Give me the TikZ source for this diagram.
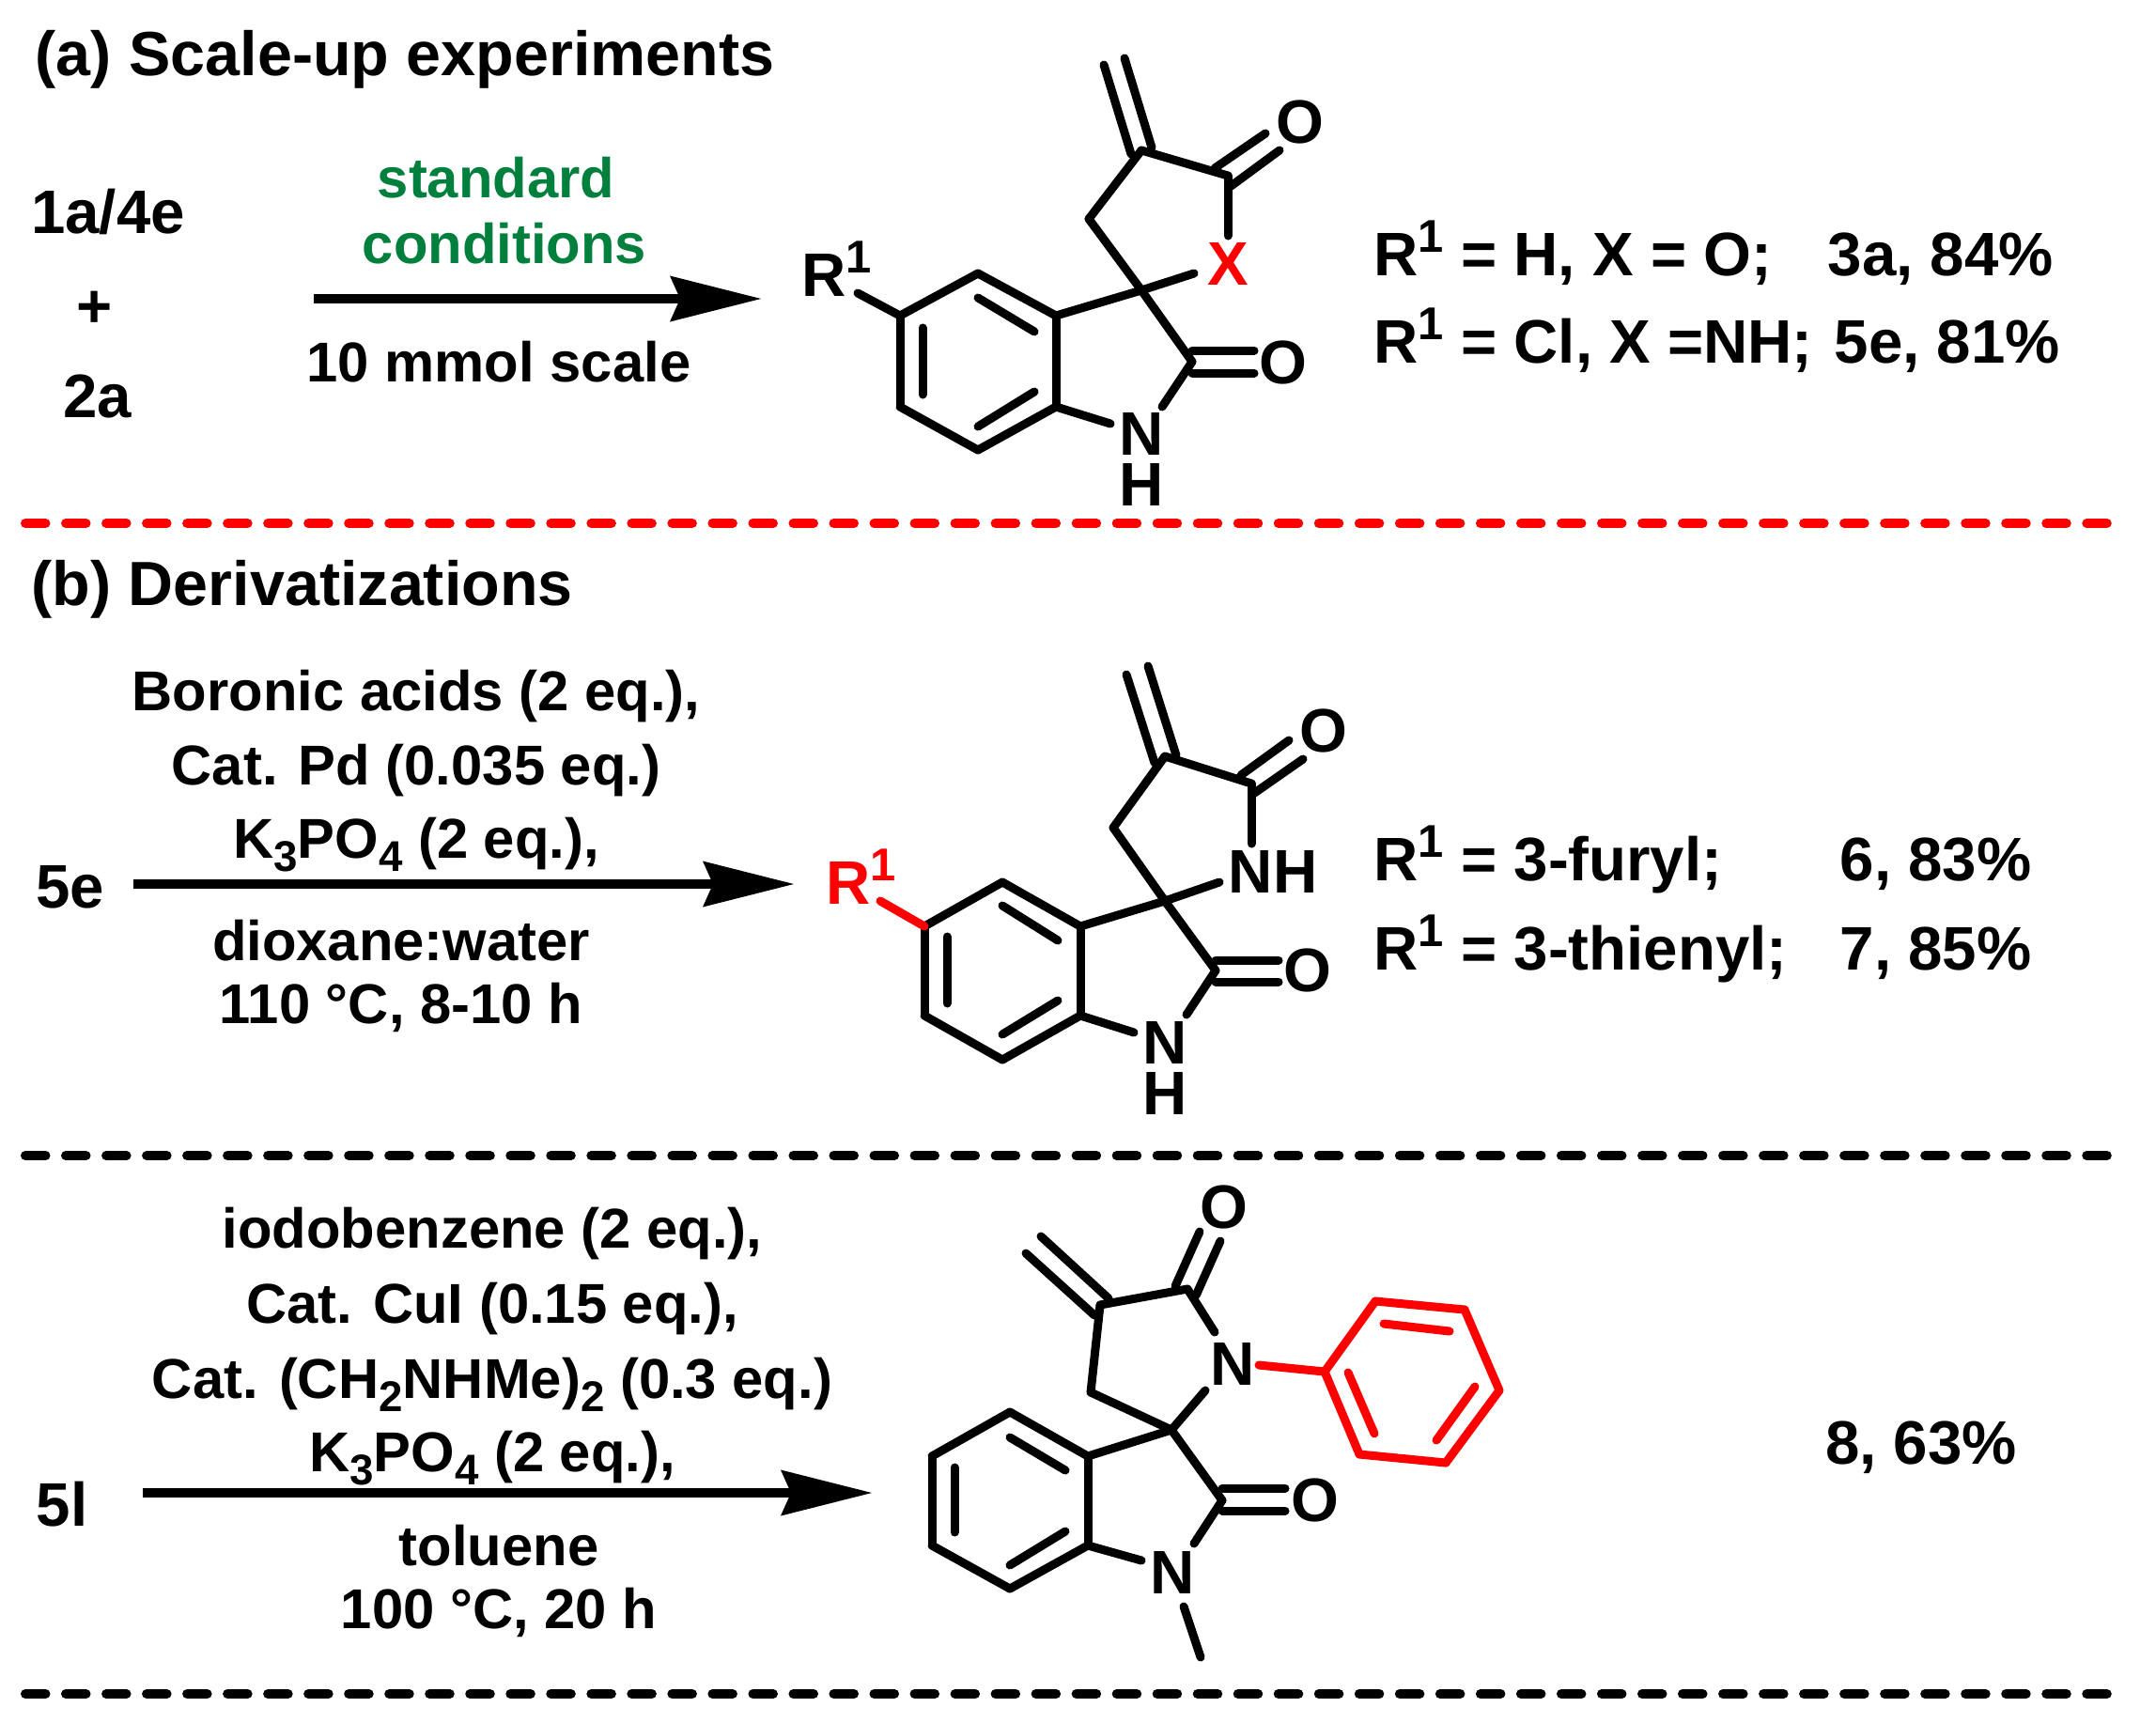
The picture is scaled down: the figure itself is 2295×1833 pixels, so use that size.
\documentclass[tikz,border=0pt]{standalone}
\usepackage{fontspec}
\setmainfont{Liberation Sans}
\usetikzlibrary{arrows.meta}
\definecolor{condgreen}{RGB}{0,128,60}
\newcommand{\rone}{R\raisebox{6.9pt}{\fontsize{13.9}{14}\selectfont 1}}
\newcommand{\subnum}[1]{\raisebox{-4pt}{\fontsize{13}{14}\selectfont #1}}
\tikzset{label/.style={inner sep=0pt, font=\fontsize{18.6}{22}\selectfont\bfseries}}
\tikzset{cond/.style={inner sep=0pt, font=\fontsize{17}{20}\selectfont\bfseries}}
\tikzset{head/.style={inner sep=0pt, anchor=base west, font=\fontsize{18.9}{22}\selectfont\bfseries}}
\tikzset{stack/.style={inner sep=0pt, align=center, font=\fontsize{18.6}{15.4}\selectfont\bfseries}}
\tikzset{lineleft/.style={label, anchor=base west}}
\tikzset{bond/.style={line width=0.9mm, line cap=round, line join=round}}
\tikzset{rxn/.style={line width=1mm, -{Stealth[length=0.97cm, width=0.49cm, inset=0.11cm, line width=0pt]}}}
\tikzset{sep/.style={line width=1mm, line cap=round, dash pattern=on 0.215cm off 0.215cm}}
\begin{document}
\begin{tikzpicture}[x=0.01cm, y=-0.01cm]
        \useasboundingbox (0,0) rectangle (2295,1833);
        % Headings
        \node[head] (heada) at (37,80) {(a) Scale-up experiments};
        \node[head] (headb) at (33,644) {(b) Derivatizations};
        % Separators
        \coordinate (sepa1) at (27,557);
        \coordinate (sepa2) at (2255,557);
        \coordinate (sepb1) at (27,1230);
        \coordinate (sepb2) at (2255,1230);
        \coordinate (sepc1) at (27,1803);
        \coordinate (sepc2) at (2255,1803);
        \draw[sep, red] (sepa1) -- (sepa2);
        \draw[sep] (sepb1) -- (sepb2);
        \draw[sep] (sepc1) -- (sepc2);
        % Reaction a
        \node[label] (sm1) at (115,225) {1a/4e};
        \node[label] (plus) at (101,329) {+};
        \node[label] (sm2) at (104,422) {2a};
        \node[cond, text=condgreen] (conda1) at (528,189) {standard};
        \node[cond, text=condgreen] (conda2) at (537,259) {conditions};
        \node[cond] (conda3) at (531,385) {10 mmol scale};
        \coordinate (arra1) at (334,318);
        \coordinate (arra2) at (810,318);
        \draw[rxn] (arra1) -- (arra2);
        \node[lineleft] (ra1) at (1462,293) {\rone{} = H, X = O;};
        \node[lineleft] (ya1) at (1945,293) {3a, 84\%};
        \node[lineleft] (ra2) at (1462,386) {\rone{} = Cl, X =NH;};
        \node[lineleft] (ya2) at (1952,386) {5e, 81\%};
        % Product a
        \foreach \name/\x/\y in {
          a1/958/336, a2/1041/291, a3/1124/336, a4/1124/433, a5/1041/479, a6/958/433,
          a7/1215/309, a8/1159/233, a9/1215/160, a10/1307/187, a11/1307/251,
          a12/1271/291, a13/1269/385, a14/1237/433, a15/1182/451, a16/913/312,
          a17/1175/69, a18/1204/164, a19/1197/62, a20/1226/157,
          a21/1347/142, a22/1293/179, a23/1362/160, a24/1309/199,
          a25/1269/373, a26/1335/373, a27/1269/397, a28/1335/397,
          a29/1041/317, a30/1101/353, a31/982/349, a32/982/420, a33/1101/417, a34/1041/454%
        } {
          \coordinate (\name) at (\x,\y);
        }
        \foreach \from/\to in {
          a1/a2, a2/a3, a3/a4, a4/a5, a5/a6, a6/a1, a3/a7, a7/a8, a8/a9, a9/a10, a10/a11,
          a7/a12, a7/a13, a13/a14, a4/a15, a1/a16, a17/a18, a19/a20, a21/a22, a23/a24,
          a25/a26, a27/a28, a29/a30, a31/a32, a33/a34%
        } {
          \draw[bond] (\from) -- (\to);
        }
        \node[label, text=red] (ax) at (1307,281) {X};
        \node[label] (ao1) at (1384,130) {O};
        \node[label] (ao2) at (1366,386) {O};
        \node[stack] (anh) at (1215,489) {N\\H};
        \node[lineleft] (ar) at (853,315) {\rone};
        % Reaction b
        \node[label] (sm3) at (75,944) {5e};
        \node[cond] (condb1) at (443,741) {Boronic acids (2 eq.),};
        \node[cond] (condb2) at (443,820) {Cat. Pd (0.035 eq.)};
        \node[cond] (condb3) at (443,899) {K\subnum{3}PO\subnum{4} (2 eq.),};
        \node[cond] (condb4) at (427,1001) {dioxane:water};
        \node[cond] (condb5) at (427,1072) {110 °C, 8-10 h};
        \coordinate (arrb1) at (142,941);
        \coordinate (arrb2) at (845,941);
        \draw[rxn] (arrb1) -- (arrb2);
        \node[lineleft] (rb1) at (1462,937) {\rone{} = 3-furyl;};
        \node[lineleft] (yb1) at (1958,937) {6, 83\%};
        \node[lineleft] (rb2) at (1462,1032) {\rone{} = 3-thienyl;};
        \node[lineleft] (yb2) at (1958,1032) {7, 85\%};
        % Product b
        \foreach \name/\x/\y in {
          b1/984/986, b2/1067/939, b3/1150/986, b4/1150/1081, b5/1067/1128, b6/984/1081,
          b7/1240/959, b8/1185/881, b9/1240/805, b10/1332/834, b11/1332/898,
          b12/1298/939, b13/1294/1033, b14/1263/1080, b15/1207/1099,
          b17/1199/718, b18/1229/812, b19/1222/709, b20/1252/804,
          b21/1372/788, b22/1321/825, b23/1387/808, b24/1334/845,
          b25/1294/1022, b26/1361/1022, b27/1294/1045, b28/1361/1045,
          b29/1067/964, b30/1126/1001, b31/1008/997, b32/1008/1068, b33/1126/1065, b34/1067/1101,
          b16/937/959%
        } {
          \coordinate (\name) at (\x,\y);
        }
        \foreach \from/\to in {
          b1/b2, b2/b3, b3/b4, b4/b5, b5/b6, b6/b1, b3/b7, b7/b8, b8/b9, b9/b10, b10/b11,
          b7/b12, b7/b13, b13/b14, b4/b15, b17/b18, b19/b20, b21/b22, b23/b24,
          b25/b26, b27/b28, b29/b30, b31/b32, b33/b34%
        } {
          \draw[bond] (\from) -- (\to);
        }
        \draw[bond, red] (b1) -- (b16);
        \node[label] (bnh) at (1355,928) {NH};
        \node[label] (bo1) at (1409,778) {O};
        \node[label] (bo2) at (1392,1033) {O};
        \node[stack] (bnh2) at (1240,1137) {N\\H};
        \node[lineleft, text=red] (br) at (879,962) {\rone};
        % Reaction c
        \node[label] (sm4) at (66,1601) {5l};
        \node[cond] (condc1) at (524,1313) {iodobenzene (2 eq.),};
        \node[cond] (condc2) at (524,1393) {Cat. CuI (0.15 eq.),};
        \node[cond] (condc3) at (524,1474) {Cat. (CH\subnum{2}NHMe)\subnum{2} (0.3 eq.)};
        \node[cond] (condc4) at (524,1552) {K\subnum{3}PO\subnum{4} (2 eq.),};
        \node[cond] (condc5) at (531,1645) {toluene};
        \node[cond] (condc6) at (531,1716) {100 °C, 20 h};
        \coordinate (arrc1) at (152,1589);
        \coordinate (arrc2) at (928,1589);
        \draw[rxn] (arrc1) -- (arrc2);
        \node[label] (yc) at (2045,1541) {8, 63\%};
        % Product c
        \foreach \name/\x/\y in {
          c1/992/1550, c2/1075/1503, c3/1158/1550, c4/1158/1645, c5/1075/1691, c6/992/1645,
          c7/1247/1522, c8/1161/1482, c9/1171/1389, c10/1264/1372, c11/1293/1418,
          c12/1283/1480, c13/1301/1597, c14/1271/1643, c15/1215/1661,
          c16/1260/1710, c37/1278/1764,
          c17/1108/1316, c18/1180/1382, c19/1092/1334, c20/1165/1400,
          c21/1277/1311, c22/1251/1369, c23/1299/1321, c24/1273/1379,
          c25/1301/1584, c26/1368/1584, c27/1301/1608, c28/1368/1608,
          c29/1075/1530, c30/1134/1565, c31/1016/1562, c32/1016/1631, c33/1134/1630, c34/1075/1666,
          p0/1340/1453, p1/1410/1460, p2/1464/1385, p3/1559/1394, p4/1596/1480, p5/1539/1557, p6/1447/1548,
          p7/1473/1409, p8/1543/1417, p9/1570/1476, p10/1529/1533, p11/1463/1526, p12/1435/1461%
        } {
          \coordinate (\name) at (\x,\y);
        }
        \foreach \from/\to in {
          c1/c2, c2/c3, c3/c4, c4/c5, c5/c6, c6/c1, c3/c7, c7/c8, c8/c9, c9/c10, c10/c11,
          c7/c12, c7/c13, c13/c14, c4/c15, c16/c37, c17/c18, c19/c20, c21/c22, c23/c24,
          c25/c26, c27/c28, c29/c30, c31/c32, c33/c34%
        } {
          \draw[bond] (\from) -- (\to);
        }
        \foreach \from/\to in {
          p0/p1, p1/p2, p2/p3, p3/p4, p4/p5, p5/p6, p6/p1, p7/p8, p9/p10, p11/p12%
        } {
          \draw[bond, red] (\from) -- (\to);
        }
        \node[label] (co1) at (1303,1285) {O};
        \node[label] (co2) at (1400,1597) {O};
        \node[label] (cn1) at (1312,1452) {N};
        \node[label] (cn2) at (1248,1674) {N};
\end{tikzpicture}
\end{document}
